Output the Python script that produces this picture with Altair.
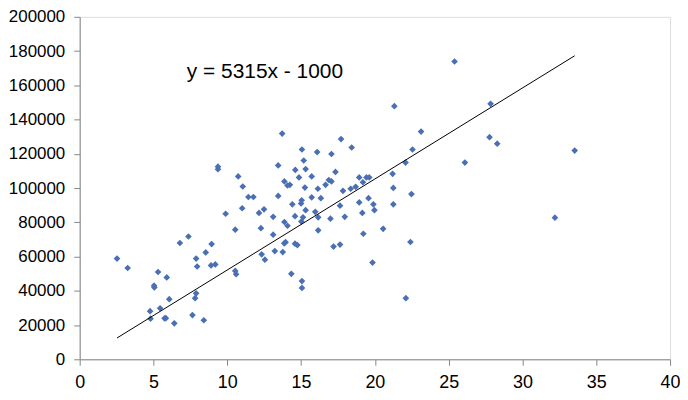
import altair as alt
import pandas as pd

x_vals = [2.53, 3.25, 4.77, 4.8, 5.04, 5.06, 5.31, 5.45, 5.75, 5.84, 5.9, 6.07, 6.41,
          6.79, 7.37, 7.64, 7.82, 7.89, 7.89, 7.96, 8.41, 8.54, 8.9, 8.94, 9.19, 9.37,
          9.37, 9.89, 10.54, 10.54, 10.6, 10.74, 11.01, 11.05, 11.43, 11.77, 12.15,
          12.28, 12.33, 12.49, 12.55, 13.11, 13.11, 13.22, 13.45, 13.45, 13.72, 13.76,
          13.87, 13.87, 13.86, 13.95, 14.08, 14.24, 14.08, 14.34, 14.41, 14.59, 14.59,
          14.61, 14.75, 14.86, 15.0, 15.02, 15.04, 15.06, 15.06, 15.06, 15.13, 15.18,
          15.26, 15.31, 15.31, 15.72, 15.72, 15.96, 16.09, 16.14, 16.16, 16.16, 16.34,
          16.66, 16.88, 16.99, 17.06, 17.06, 17.2, 17.33, 17.64, 17.64, 17.71, 17.84,
          17.96, 18.36, 18.43, 18.7, 18.94, 18.94, 19.15, 19.19, 19.22, 19.43, 19.57,
          19.62, 19.84, 19.9, 19.97, 20.56, 21.2, 21.25, 21.25, 21.32, 22.08, 22.1,
          22.41, 22.48, 22.55, 23.13, 25.4, 26.1, 27.77, 27.84, 28.29, 32.2, 33.54]
y_vals = [58800, 53300, 28100, 23700, 43000, 42000, 51000, 29800, 23900, 24000, 47800,
          35100, 21000, 67900, 71700, 25800, 35700, 38500, 58800, 54200, 22800, 62400,
          54800, 67300, 55400, 112500, 111000, 85000, 75700, 51600, 49700, 106800, 88200,
          100900, 94800, 94800, 85500, 76600, 61300, 87600, 58200, 83200, 72800, 63200,
          113200, 95400, 131800, 62600, 103900, 80200, 67700, 68400, 101500, 101900,
          78000, 49900, 90500, 83600, 67500, 110600, 66700, 106200, 91000, 80400, 92900,
          122500, 45700, 41700, 82900, 116100, 100300, 111100, 87100, 106800, 94600,
          86100, 121000, 99600, 82900, 75300, 94100, 101900, 104700, 82100, 119900,
          103900, 65800, 109400, 89700, 67000, 128600, 98400, 83200, 99600, 123700,
          100700, 106200, 91600, 85500, 103400, 73300, 106200, 94100, 106200, 56500,
          90500, 87100, 76200, 108300, 100100, 90500, 147800, 114900, 35700, 68500,
          96500, 122500, 133000, 173900, 114900, 129700, 149200, 125900, 82700, 121900]

slope = 5315
intercept = -1000
equation = "y = 5315x - 1000"
x_ticks = [0, 5, 10, 15, 20, 25, 30, 35, 40]
y_ticks = [0, 20000, 40000, 60000, 80000, 100000, 120000, 140000, 160000, 180000, 200000]

pts = pd.DataFrame({"x": x_vals, "y": y_vals})
x_lo, x_hi = min(x_vals), max(x_vals)
trend = pd.DataFrame({"x": [x_lo, x_hi], "y": [slope * x_lo + intercept, slope * x_hi + intercept]})
label_df = pd.DataFrame({"x": [12.55], "y": [168000], "t": [equation]})

FONT = "Liberation Sans"
xs = alt.Scale(domain=[0, 40], nice=False, zero=False)
ys = alt.Scale(domain=[0, 200000], nice=False)


def x_axis():
    return alt.Axis(values=x_ticks, title=None, grid=False, domainColor="#868686",
                    tickColor="#868686", tickSize=6, labelPadding=8, labelFontSize=18,
                    labelFont=FONT, labelColor="#000000", format="d",
                    labelFlush=False, labelOverlap=False)


def y_axis():
    return alt.Axis(values=y_ticks, title=None, grid=False, domainColor="#868686",
                    tickColor="#868686", tickSize=6, labelPadding=9, labelFontSize=17,
                    labelFont=FONT, labelColor="#000000", format="d",
                    labelFlush=False, labelOverlap=False, tickCount=11)


points = alt.Chart(pts).mark_point(shape="diamond", filled=True, size=45,
                                   color="#4A6FB5", opacity=1).encode(
    x=alt.X("x:Q", scale=xs, axis=x_axis()),
    y=alt.Y("y:Q", scale=ys, axis=y_axis()),
)

line = alt.Chart(trend).mark_line(color="#000000", strokeWidth=1).encode(
    x=alt.X("x:Q", scale=xs, axis=x_axis()),
    y=alt.Y("y:Q", scale=ys, axis=y_axis()),
)

text = alt.Chart(label_df).mark_text(font=FONT, fontSize=21, color="#000000",
                                     align="center", baseline="middle").encode(
    x=alt.X("x:Q", scale=xs, axis=x_axis()),
    y=alt.Y("y:Q", scale=ys, axis=y_axis()),
    text="t:N",
)

chart = alt.layer(points, line, text).properties(
    width=593, height=344,
    autosize=alt.AutoSizeParams(type="none"),
    padding={"left": 72, "top": 8, "right": 10, "bottom": 35},
).configure_view(stroke=None).configure(background="#ffffff")

chart.save("out.html", embed_options={"renderer": "svg", "actions": False})
